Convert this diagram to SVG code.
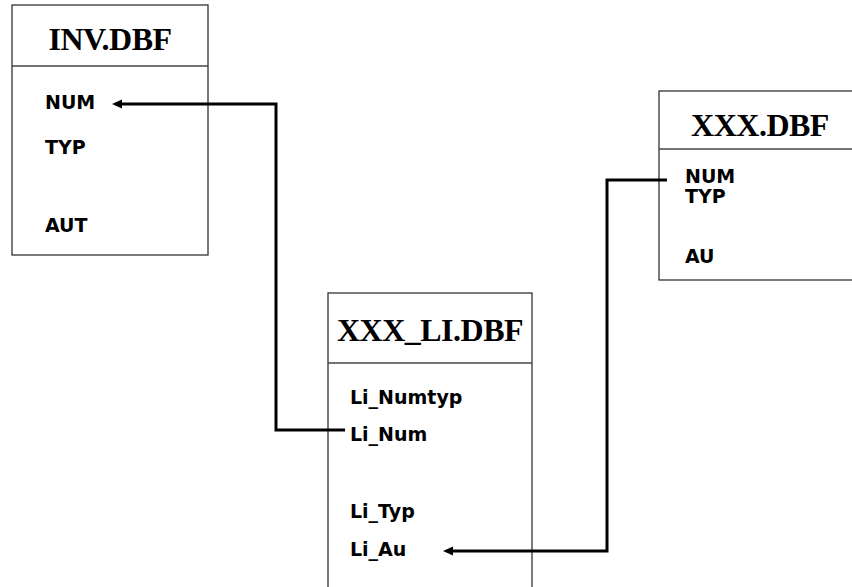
<svg xmlns="http://www.w3.org/2000/svg" width="852" height="587" viewBox="0 0 852 587">
<style>
.box{fill:#fff;stroke:#333;stroke-width:1.3}
.div{stroke:#444;stroke-width:1.5}
.title{font-family:"Liberation Serif","Times New Roman",serif;font-weight:bold;font-size:32px;letter-spacing:-0.5px;fill:#000;text-anchor:middle}
.field{font-family:"DejaVu Sans",Verdana,sans-serif;font-weight:bold;font-size:19px;fill:#000}
.conn{fill:none;stroke:#000;stroke-width:3}
</style>
<defs>
<marker id="arr" markerUnits="userSpaceOnUse" markerWidth="12" markerHeight="10" refX="0" refY="4.5" orient="auto">
<path d="M0,0 L10,4.5 L0,9 z" fill="#000"/>
</marker>
</defs>
<rect width="852" height="587" fill="#fff"/>
<g id="inv">
<rect class="box" x="12" y="5" width="196" height="250"/>
<line class="div" x1="12" y1="66" x2="208" y2="66"/>
<text class="title" x="110" y="50">INV.DBF</text>
<text class="field" x="45" y="109">NUM</text>
<text class="field" x="45" y="154">TYP</text>
<text class="field" x="45" y="232">AUT</text>
</g>
<g id="xxx">
<rect class="box" x="659" y="91" width="210" height="189"/>
<line class="div" x1="659" y1="149" x2="852" y2="149"/>
<text class="title" x="760" y="136">XXX.DBF</text>
<text class="field" x="685" y="183">NUM</text>
<text class="field" x="685" y="203">TYP</text>
<text class="field" x="685" y="263">AU</text>
</g>
<g id="xxx_li">
<rect class="box" x="328" y="293" width="204" height="310"/>
<line class="div" x1="328" y1="363" x2="532" y2="363"/>
<text class="title" x="430" y="341">XXX_LI.DBF</text>
<text class="field" x="350" y="404">Li_Numtyp</text>
<text class="field" x="350" y="441">Li_Num</text>
<text class="field" x="350" y="518">Li_Typ</text>
<text class="field" x="350" y="556">Li_Au</text>
</g>
<g id="connectors">
<path class="conn" d="M345,430 H276 V104 H122" marker-end="url(#arr)"/>
<path class="conn" d="M667,180 H607 V551 H453" marker-end="url(#arr)"/>
</g>
</svg>
